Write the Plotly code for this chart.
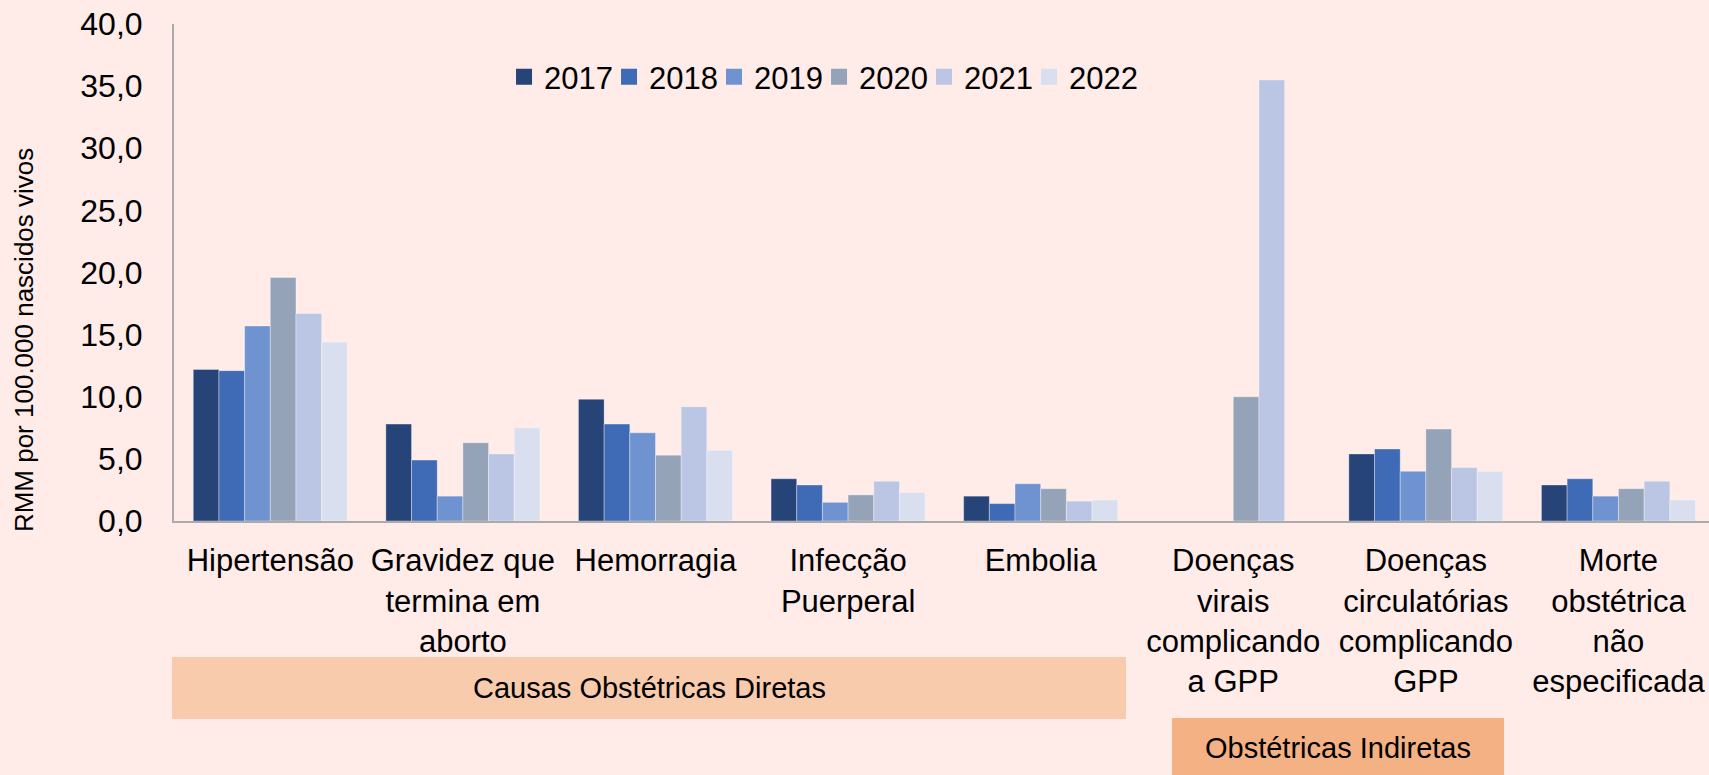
import plotly.graph_objects as go

categories = [
    "Hipertensão",
    "Gravidez que<br>termina em<br>aborto",
    "Hemorragia",
    "Infecção<br>Puerperal",
    "Embolia",
    "Doenças<br>virais<br>complicando<br>a GPP",
    "Doenças<br>circulatórias<br>complicando<br>GPP",
    "Morte<br>obstétrica<br>não<br>especificada",
]
years = ["2017", "2018", "2019", "2020", "2021", "2022"]

v2017 = [12.2, 7.8, 9.8, 3.4, 2.0, None, 5.4, 2.9]
v2018 = [12.1, 4.9, 7.8, 2.9, 1.4, None, 5.8, 3.4]
v2019 = [15.7, 2.0, 7.1, 1.5, 3.0, None, 4.0, 2.0]
v2020 = [19.6, 6.3, 5.3, 2.1, 2.6, 10.0, 7.4, 2.6]
v2021 = [16.7, 5.4, 9.2, 3.2, 1.6, 35.5, 4.3, 3.2]
v2022 = [14.4, 7.5, 5.7, 2.3, 1.7, None, 4.0, 1.7]
series = [v2017, v2018, v2019, v2020, v2021, v2022]

colors = ["#264478", "#3F6AB5", "#6F93D0", "#94A3B8", "#BAC6E3", "#D9DFEF"]

y_ticks = [0, 5, 10, 15, 20, 25, 30, 35, 40]
y_title = "RMM por 100.000 nascidos vivos"
group_direct = "Causas Obstétricas Diretas"
group_indirect = "Obstétricas Indiretas"

BG = "#FFEBE8"
FONT = "Liberation Sans, Arial, sans-serif"

fig = go.Figure()
x_idx = list(range(len(categories)))
for name, vals, col in zip(years, series, colors):
    fig.add_trace(go.Bar(
        x=x_idx, y=vals, name=name, showlegend=False,
        marker=dict(color=col, line=dict(color="rgba(255,255,255,0.35)", width=1)),
    ))
# legend entries with larger square swatches
for name, col in zip(years, colors):
    fig.add_trace(go.Scatter(
        x=[None], y=[None], name=name, mode="markers",
        marker=dict(symbol="square", size=16, color=col),
    ))
# invisible spacer entry so the last legend label is not clipped
fig.add_trace(go.Scatter(
    x=[None], y=[None], name=" ", mode="markers",
    marker=dict(symbol="square", size=1, color="rgba(0,0,0,0)"),
))

fig.update_layout(
    width=1709, height=775,
    paper_bgcolor=BG, plot_bgcolor=BG,
    margin=dict(l=174, r=0, t=24, b=254),
    barmode="group", bargap=0.2, bargroupgap=0,
    separators=",.",
    font=dict(family=FONT, color="#000000", size=31),
    showlegend=True,
    legend=dict(
        orientation="h", x=0.215, xanchor="left", y=0.893, yanchor="middle",
        bgcolor="rgba(0,0,0,0)", font=dict(size=31, family=FONT),
        entrywidth=60, itemclick=False, itemdoubleclick=False,
    ),
    xaxis=dict(
        range=[-0.5, 7.47], tickmode="array", tickvals=x_idx, ticktext=categories,
        showline=True, linecolor="#ABABAB", linewidth=2,
        showgrid=False, zeroline=False, ticks="", automargin=False,
        tickfont=dict(size=31, family=FONT), ticklabelstandoff=11,
    ),
    yaxis=dict(
        range=[0, 40], tickmode="array", tickvals=y_ticks, tickformat=".1f",
        showline=True, linecolor="#ABABAB", linewidth=2,
        showgrid=False, zeroline=False, ticks="", automargin=False,
        tickfont=dict(size=32, family=FONT), ticklabelstandoff=23,
    ),
)

fig.add_annotation(
    text=y_title, xref="paper", yref="paper", x=-0.0977, y=0.364,
    showarrow=False, textangle=-90, font=dict(size=26, family=FONT),
    xanchor="center", yanchor="middle",
)

def px_x(p):
    return (p - 174) / 1535.0

def px_y(p):
    return (521 - p) / 497.0

fig.add_shape(type="rect", xref="paper", yref="paper",
              x0=px_x(172), x1=px_x(1126), y0=px_y(719), y1=px_y(657),
              fillcolor="#F8CBAD", line=dict(width=0), layer="below")
fig.add_annotation(text=group_direct, xref="paper", yref="paper",
                   x=px_x(649), y=px_y(688), showarrow=False,
                   font=dict(size=29, family=FONT), xanchor="center", yanchor="middle")
fig.add_shape(type="rect", xref="paper", yref="paper",
              x0=px_x(1172), x1=px_x(1504), y0=px_y(790), y1=px_y(718),
              fillcolor="#F4B183", line=dict(width=0), layer="below")
fig.add_annotation(text=group_indirect, xref="paper", yref="paper",
                   x=px_x(1338), y=px_y(748), showarrow=False,
                   font=dict(size=29, family=FONT), xanchor="center", yanchor="middle")

fig.write_html("out.html", config={"displayModeBar": False},
               post_script="document.body.style.margin='0px';")
